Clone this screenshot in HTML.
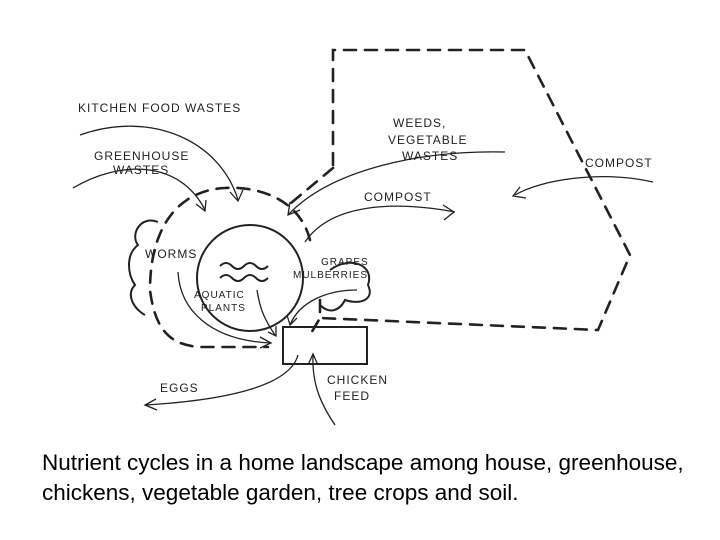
<!DOCTYPE html>
<html><head><style>
html,body{margin:0;padding:0;background:#fff;width:720px;height:540px;overflow:hidden}
svg{position:absolute;left:0;top:0}
.t{font-family:"Liberation Sans",sans-serif;font-size:12px;fill:#222;letter-spacing:1px}
.cap{position:absolute;left:42px;top:448px;font-family:"Liberation Sans",sans-serif;font-size:22.5px;line-height:30px;color:#000;white-space:nowrap}
</style></head><body>
<svg width="720" height="540" viewBox="0 0 720 540">
<g fill="none" stroke="#222" stroke-width="2.6" stroke-dasharray="12,9" stroke-linecap="round">
<path d="M333,165 L333,50 L525,50 L630,255 L598,330 L320,318"/>
<path d="M333,168 L285,208"/>
<path d="M310,240 C300,200 260,186 225,188 C180,190 150,225 150,290 C155,330 170,345 200,347 L268,347"/>
<path d="M320,300 L320,318 L310,335"/>
</g>
<g fill="none" stroke="#222" stroke-width="2">
<circle cx="250" cy="278" r="53"/>
<rect x="283" y="327" width="84" height="37"/>
<path d="M158,222 C140,215 130,235 138,245 C125,255 128,275 135,285 C125,295 135,310 145,315"/>
<path d="M330,270 C350,255 375,265 368,285 C375,300 360,305 345,300 C340,310 330,315 320,305"/>
</g>
<g fill="none" stroke="#222" stroke-width="1.3">
<path d="M80,135 C150,110 220,140 238,200"/><path d="M230,192 L238,201 L243,190"/>
<path d="M73,188 C120,160 180,160 205,210"/><path d="M196,204 L205,211 L206,200"/>
<path d="M505,152 C420,150 330,170 288,215"/><path d="M290,202 L288,215 L300,210"/>
<path d="M653,182 C600,170 540,180 515,195"/><path d="M520,187 L513,196 L526,198"/>
<path d="M305,242 C330,205 390,200 455,212"/><path d="M443,205 L454,212 L444,220"/>
<path d="M178,272 C180,310 210,340 270,343"/><path d="M260,337 L271,343 L260,348"/>
<path d="M257,290 C260,310 265,320 275,335"/><path d="M268,332 L276,336 L276,326"/>
<path d="M357,290 C330,290 300,300 290,325"/><path d="M287,315 L290,325 L297,318"/>
<path d="M298,355 C290,385 230,400 145,405"/><path d="M156,399 L145,405 L157,410"/>
<path d="M335,425 C318,400 312,380 313,355"/><path d="M308,365 L313,354 L318,365"/>
</g>
<g stroke="#222" stroke-width="2" fill="none">
<path d="M220,266 q6,-6 12,0 q6,6 12,0 q6,-6 12,0 q6,6 12,0"/>
<path d="M220,278 q6,-6 12,0 q6,6 12,0 q6,-6 12,0 q6,6 12,0"/>
</g>
<text class="t" x="78" y="112">KITCHEN FOOD WASTES</text>
<text class="t" x="94" y="160">GREENHOUSE</text>
<text class="t" x="113" y="174">WASTES</text>
<text class="t" x="393" y="127">WEEDS,</text>
<text class="t" x="388" y="144">VEGETABLE</text>
<text class="t" x="402" y="160">WASTES</text>
<text class="t" x="585" y="167">COMPOST</text>
<text class="t" x="364" y="201">COMPOST</text>
<text class="t" x="145" y="258">WORMS</text>
<text class="t" x="321" y="265" style="font-size:10px">GRAPES</text>
<text class="t" x="293" y="278" style="font-size:10px">MULBERRIES</text>
<text class="t" x="194" y="298" style="font-size:10px">AQUATIC</text>
<text class="t" x="201" y="311" style="font-size:10px">PLANTS</text>
<text class="t" x="160" y="392">EGGS</text>
<text class="t" x="327" y="384">CHICKEN</text>
<text class="t" x="334" y="400">FEED</text>
</svg>
<div class="cap">Nutrient cycles in a home landscape among house, greenhouse,<br>chickens, vegetable garden, tree crops and soil.</div>
</body></html>
